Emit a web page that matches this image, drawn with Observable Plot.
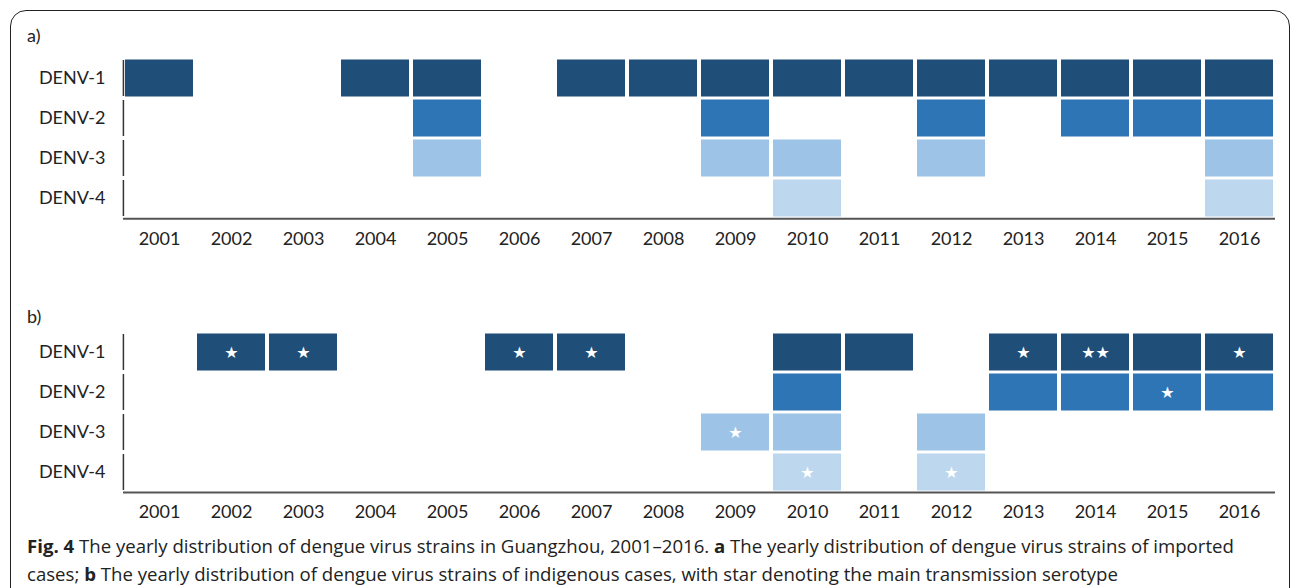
<!DOCTYPE html>
<html><head><meta charset="utf-8">
<script src="https://cdn.jsdelivr.net/npm/d3@7"></script>
<script src="https://cdn.jsdelivr.net/npm/@observablehq/plot@0.6"></script>
<style>
body{margin:0;background:#fff;}
#wrap{position:relative;width:1292px;height:588px;overflow:hidden;font-family:Lato,sans-serif;color:#222;}
#frame{position:absolute;left:10px;top:10px;width:1278px;height:700px;border:1.5px solid #222;border-radius:16px;}
.panel{position:absolute;left:0;}
.lbl{position:absolute;left:27px;font-size:18px;color:#222;}
#cap{position:absolute;left:27px;top:532px;font-family:"Open Sans",sans-serif;font-size:18.6px;line-height:28px;color:#222;white-space:nowrap;}
</style></head>
<body><div id="wrap"><div id="frame"></div>
<div class="lbl" style="top:24px">a)</div>
<div class="panel" id="pa" style="top:20px"></div>
<div class="lbl" style="top:305px">b)</div>
<div class="panel" id="pb" style="top:295px"></div>
<div id="cap"><b>Fig. 4</b> The yearly distribution of dengue virus strains in Guangzhou, 2001–2016. <b>a</b> The yearly distribution of dengue virus strains of imported<br>cases; <b>b</b> The yearly distribution of dengue virus strains of indigenous cases, with star denoting the main transmission serotype</div>
</div>
<script>
const years = ["2001","2002","2003","2004","2005","2006","2007","2008","2009","2010","2011","2012","2013","2014","2015","2016"];
const serotypes = ["DENV-1","DENV-2","DENV-3","DENV-4"];
const colors = ["#1f4e79","#2e75b6","#9dc3e6","#bdd7ee"];

// a) imported cases: years present per serotype
const importedD1 = ["2001","2004","2005","2007","2008","2009","2010","2011","2012","2013","2014","2015","2016"];
const importedD2 = ["2005","2009","2012","2014","2015","2016"];
const importedD3 = ["2005","2009","2010","2012","2016"];
const importedD4 = ["2010","2016"];

// b) indigenous cases
const indigenousD1 = ["2002","2003","2006","2007","2010","2011","2013","2014","2015","2016"];
const indigenousD2 = ["2010","2013","2014","2015","2016"];
const indigenousD3 = ["2009","2010","2012"];
const indigenousD4 = ["2010","2012"];

// stars (main transmission serotype) in b)
const starYears = ["2002","2003","2006","2007","2013","2014","2016","2015","2009","2010","2012"];
const starSerotypes = ["DENV-1","DENV-1","DENV-1","DENV-1","DENV-1","DENV-1","DENV-1","DENV-2","DENV-3","DENV-4","DENV-4"];
const starLabels = ["★","★","★","★","★","★★","★","★","★","★","★"];

function toCells(lists) {
  return lists.flatMap((ys, i) => ys.map(y => ({year: y, sero: serotypes[i]})));
}
const cellsA = toCells([importedD1, importedD2, importedD3, importedD4]);
const cellsB = toCells([indigenousD1, indigenousD2, indigenousD3, indigenousD4]);
const starsB = starYears.map((y, i) => ({year: y, sero: starSerotypes[i], stars: starLabels[i]}));

const W = 1292, H = 240, mL = 121, mR = 16, mT = 37;
function panel(cells, stars, mB, pad) {
  const bw = (W - mL - mR) / years.length;
  const bh = (H - mT - mB) / serotypes.length;
  return Plot.plot({
    width: W, height: H, marginLeft: mL, marginRight: mR, marginTop: mT, marginBottom: mB,
    style: {fontFamily: "Lato, sans-serif", fontSize: "18px", color: "#222", background: "transparent"},
    x: {domain: years, padding: 0, tickSize: 0, tickPadding: pad, label: null},
    y: {domain: serotypes, padding: 0, tickSize: 0, tickPadding: 16, label: null},
    color: {domain: serotypes, range: colors},
    marks: [
      Plot.cell(cells, {x: "year", y: "sero", fill: "sero", insetLeft: 2, insetRight: 2, insetTop: 1.5, insetBottom: 1.5}),
      Plot.tickX(serotypes, {x: () => years[0], y: d => d, dx: -bw / 2, stroke: "#333", strokeWidth: 1.5, insetTop: 2, insetBottom: 2}),
      Plot.tickY(years, {x: d => d, y: () => serotypes[3], dy: bh / 2, stroke: "#555", strokeWidth: 2}),
      Plot.text(stars, {x: "year", y: "sero", text: "stars", fill: "white", fontSize: 16, fontFamily: "DejaVu Sans"})
    ]
  });
}
document.getElementById("pa").append(panel(cellsA, [], 42, 14));
document.getElementById("pb").append(panel(cellsB, starsB, 43, 13));
</script>
</body></html>
